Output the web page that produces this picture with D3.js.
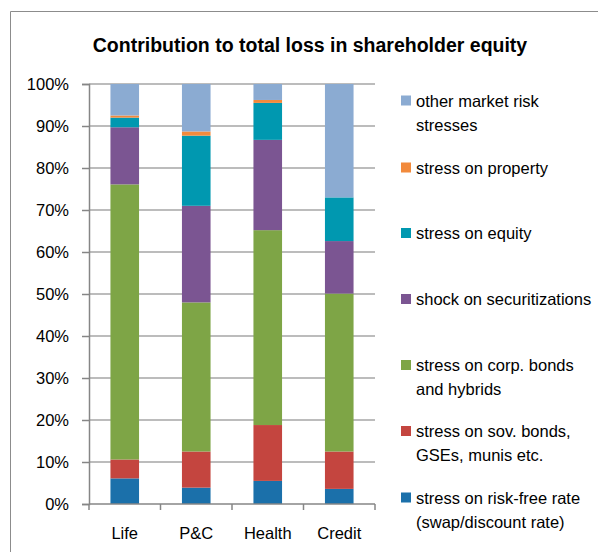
<!DOCTYPE html>
<html><head><meta charset="utf-8">
<script src="https://cdn.jsdelivr.net/npm/d3@7"></script>
<style>body{margin:0;background:#fff}svg{display:block}</style>
</head><body>
<script>
const categories = ["Life", "P&C", "Health", "Credit"];
const seriesNames = [
  "stress on risk-free rate (swap/discount rate)",
  "stress on sov. bonds, GSEs, munis etc.",
  "stress on corp. bonds and hybrids",
  "shock on securitizations",
  "stress on equity",
  "stress on property",
  "other market risk stresses"
];
const riskFree = [6.1, 3.9, 5.5, 3.6];
const sovBonds = [4.5, 8.6, 13.3, 8.9];
const corpBonds = [65.5, 35.5, 46.4, 37.6];
const securitizations = [13.6, 23.0, 21.5, 12.5];
const equity = [2.3, 16.7, 8.8, 10.4];
const property = [0.5, 1.0, 0.7, 0.0];
const otherRisk = [7.5, 11.3, 3.8, 27.0];
const yTicks = [0, 10, 20, 30, 40, 50, 60, 70, 80, 90, 100];
const legendLines = [
  ["other market risk", "stresses"],
  ["stress on property"],
  ["stress on equity"],
  ["shock on securitizations"],
  ["stress on corp. bonds", "and hybrids"],
  ["stress on sov. bonds,", "GSEs, munis etc."],
  ["stress on risk-free rate", "(swap/discount rate)"]
];
const colors = ["#1B70AA", "#C4453F", "#7EA546", "#7B5592", "#0098B0", "#F28A3C", "#8BABD2"];

const seriesValues = [riskFree, sovBonds, corpBonds, securitizations, equity, property, otherRisk];
const keys = seriesNames;
const table = categories.map((c, i) => {
  const row = {cat: c};
  keys.forEach((k, j) => row[k] = seriesValues[j][i]);
  return row;
});
const stacked = d3.stack().keys(keys)(table);

const W = 598, H = 552;
const svg = d3.select("body").append("svg").attr("width", W).attr("height", H);
const font = "'Liberation Sans', Arial, sans-serif";

// outer frame
svg.append("path").attr("d", `M10.5,${H+2} V11.5 H${W+2}`).attr("fill", "none").attr("stroke", "#8c8c8c").attr("stroke-width", 1);

svg.append("text").attr("x", 310).attr("y", 52).attr("text-anchor", "middle")
  .attr("font-family", font).attr("font-weight", "bold").attr("font-size", 19.5)
  .attr("fill", "#000").text("Contribution to total loss in shareholder equity");

const x = d3.scaleBand().domain(categories).range([89, 375]).paddingInner(0.6).paddingOuter(0.3);
const y = d3.scaleLinear().domain([0, 100]).range([504, 84]);

// gridlines
svg.append("g").selectAll("line").data(yTicks.filter(t => t > 0)).join("line")
  .attr("x1", 89).attr("x2", 375).attr("y1", d => y(d)).attr("y2", d => y(d))
  .attr("stroke", "#a6a6a6").attr("stroke-width", 1.5);

// y axis
const yAxis = d3.axisLeft(y).tickValues(yTicks).tickFormat(d => d + "%").tickSize(7).tickPadding(13);
const gy = svg.append("g").attr("transform", "translate(89,0)").call(yAxis);
gy.select(".domain").attr("stroke", "#868686").attr("stroke-width", 1.5);
gy.selectAll(".tick line").attr("stroke", "#868686").attr("stroke-width", 1.5);
gy.selectAll("text").attr("font-family", font).attr("font-size", 16.5).attr("fill", "#000");

// bars
svg.append("g").selectAll("g").data(stacked).join("g")
  .attr("fill", (d, i) => colors[i])
  .selectAll("rect").data(d => d).join("rect")
  .attr("x", d => x(d.data.cat)).attr("width", x.bandwidth())
  .attr("y", d => y(d[1])).attr("height", d => y(d[0]) - y(d[1]));

// x axis
const step = x.step();
const gx = svg.append("g").attr("transform", "translate(0,504)");
gx.append("line").attr("x1", 89).attr("x2", 375).attr("stroke", "#868686").attr("stroke-width", 1.5);
const boundaries = categories.map(c => x(c) - (step - x.bandwidth()) / 2).concat([375]);
gx.selectAll(".tk").data(boundaries).join("line").attr("class", "tk")
  .attr("x1", d => d).attr("x2", d => d).attr("y1", 0).attr("y2", 6)
  .attr("stroke", "#868686").attr("stroke-width", 1.5);
gx.selectAll("text").data(categories).join("text")
  .attr("x", d => x(d) + x.bandwidth() / 2).attr("y", 35).attr("text-anchor", "middle")
  .attr("font-family", font).attr("font-size", 16.5).attr("fill", "#000").text(d => d);

// legend
const legendY = [100.5, 167.5, 233, 299, 365, 431, 497.5];
const lg = svg.append("g");
legendLines.forEach((lines, i) => {
  const ci = colors.length - 1 - i;
  lg.append("rect").attr("x", 401).attr("y", legendY[i] - 5).attr("width", 10).attr("height", 10).attr("fill", colors[ci]);
  lines.forEach((t, k) => {
    lg.append("text").attr("x", 416).attr("y", legendY[i] + 24 * k + 6)
      .attr("font-family", font).attr("font-size", 16.5).attr("fill", "#000").text(t);
  });
});
</script>
</body></html>
